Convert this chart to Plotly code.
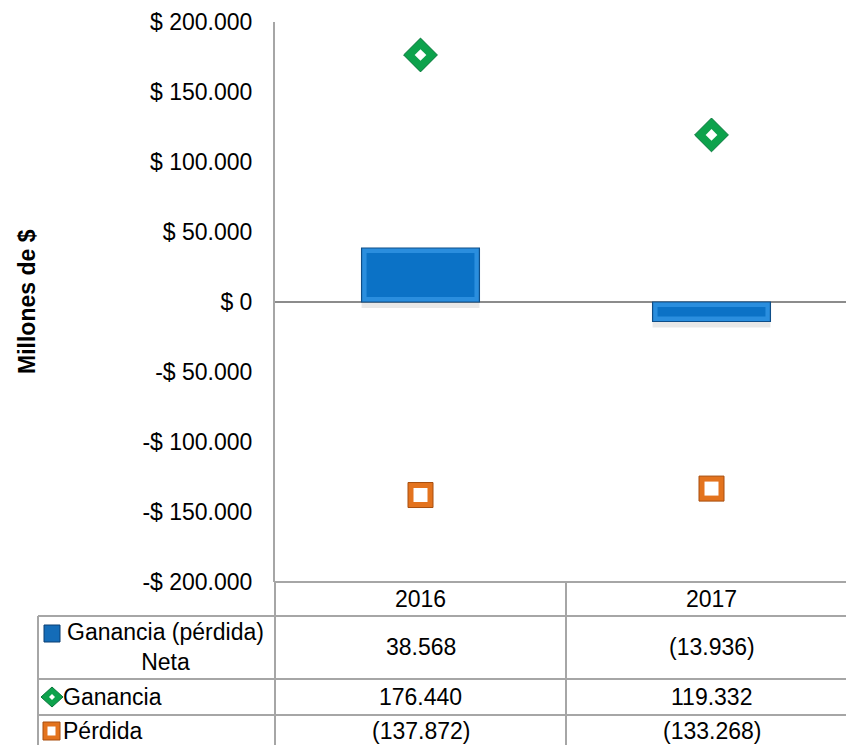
import plotly.graph_objects as go

# ---- data ----
years = ["2016", "2017"]
neta = [38568, -13936]          # Ganancia (pérdida) Neta
ganancia = [176440, 119332]     # Ganancia
perdida = [-137872, -133268]    # Pérdida
row_labels = ["Ganancia (pérdida)<br>Neta", "Ganancia", "Pérdida"]
y_ticks = [200000, 150000, 100000, 50000, 0, -50000, -100000, -150000, -200000]

FONT = "Liberation Sans, Arial, sans-serif"
FS = 23
GRID = "#A6A6A6"

W, H = 846, 745
L, T, B = 275, 22, 582          # plot area edges in px
PW, PH = W - L, B - T
Y_MIN, Y_MAX = -200000, 200000
CAT_PX = 291                    # width of one category slot in px


def money(v):
    s = f"{abs(v):,}".replace(",", ".")
    return f"-$ {s}" if v < 0 else f"$ {s}"


def acct(v):
    s = f"{abs(v):,}".replace(",", ".")
    return f"({s})" if v < 0 else s


def py(p):
    """pixel row -> paper y"""
    return (B - p) / PH


def px(p):
    """pixel column -> paper x"""
    return (p - L) / PW


units_per_px = (Y_MAX - Y_MIN) / PH
bar_w = 0.405
bev = 5
inset = bev * units_per_px
inner_w = bar_w - 2 * bev / CAT_PX

fig = go.Figure()

# soft shadow under the net bars
fig.add_trace(go.Bar(
    x=years, y=neta, base=[-6 * units_per_px] * 2, width=bar_w,
    marker=dict(color="rgba(110,110,110,0.16)", line=dict(width=0)),
    hoverinfo="skip", showlegend=False))
# outer bevel of the net bars
fig.add_trace(go.Bar(
    x=years, y=neta, width=bar_w,
    marker=dict(color="#2A8EDE", line=dict(color="#0F4E88", width=1.2)),
    name="Ganancia (pérdida) Neta", showlegend=False))
# inner face of the net bars
inner_base = [inset if v > 0 else -inset for v in neta]
inner_len = [v - 2 * inset if v > 0 else v + 2 * inset for v in neta]
fig.add_trace(go.Bar(
    x=years, y=inner_len, base=inner_base, width=inner_w,
    marker=dict(color="#0B72C6", line=dict(width=0)),
    hoverinfo="skip", showlegend=False))

# Ganancia markers (green diamond with white core)
fig.add_trace(go.Scatter(
    x=years, y=ganancia, mode="markers", name="Ganancia", showlegend=False,
    marker=dict(symbol="diamond", size=26, color="#0DA24C",
                line=dict(color="#07763A", width=1))))
fig.add_trace(go.Scatter(
    x=years, y=ganancia, mode="markers", hoverinfo="skip", showlegend=False,
    marker=dict(symbol="diamond", size=9, color="white", line=dict(width=0))))

# Pérdida markers (orange square with white core)
fig.add_trace(go.Scatter(
    x=years, y=perdida, mode="markers", name="Pérdida", showlegend=False,
    marker=dict(symbol="square", size=25, color="#E3731E",
                line=dict(color="#A84F0E", width=1))))
fig.add_trace(go.Scatter(
    x=years, y=perdida, mode="markers", hoverinfo="skip", showlegend=False,
    marker=dict(symbol="square", size=14, color="white", line=dict(width=0))))

shapes = []
line_style = dict(color=GRID, width=2)
# data table grid
shapes.append(dict(type="line", xref="paper", yref="paper",
                   x0=0, x1=1, y0=py(582), y1=py(582), line=line_style))
for yy in (616, 679, 715):
    shapes.append(dict(type="line", xref="paper", yref="paper",
                       x0=px(38), x1=1, y0=py(yy), y1=py(yy), line=line_style))
shapes.append(dict(type="line", xref="paper", yref="paper",
                   x0=px(38), x1=px(38), y0=py(616), y1=py(745), line=line_style))
shapes.append(dict(type="line", xref="paper", yref="paper",
                   x0=0, x1=0, y0=py(582), y1=py(745), line=line_style))
shapes.append(dict(type="line", xref="x", yref="paper",
                   x0=0.5, x1=0.5, y0=py(582), y1=py(745), line=line_style))

# legend keys inside the table
shapes.append(dict(type="rect", xref="paper", yref="paper",
                   x0=px(44), x1=px(60), y0=py(625), y1=py(642),
                   fillcolor="#146CB8", line=dict(color="#0B3F73", width=1)))
shapes.append(dict(type="path", xref="paper", yref="paper",
                   path=f"M {px(41)},{py(697)} L {px(52)},{py(687)} L {px(63)},{py(697)} L {px(52)},{py(707)} Z",
                   fillcolor="#0DA24C", line=dict(color="#07763A", width=1)))
shapes.append(dict(type="path", xref="paper", yref="paper",
                   path=f"M {px(49)},{py(697)} L {px(52)},{py(694)} L {px(55)},{py(697)} L {px(52)},{py(700)} Z",
                   fillcolor="white", line=dict(width=0)))
shapes.append(dict(type="rect", xref="paper", yref="paper",
                   x0=px(43), x1=px(60), y0=py(722), y1=py(740),
                   fillcolor="#E3731E", line=dict(color="#A84F0E", width=1)))
shapes.append(dict(type="rect", xref="paper", yref="paper",
                   x0=px(47.5), x1=px(55.5), y0=py(726.5), y1=py(735.5),
                   fillcolor="white", line=dict(width=0)))

ann = []
txt = dict(family=FONT, size=FS, color="black")
for i, yr in enumerate(years):
    # category axes take the category index for annotation positions
    ann.append(dict(x=i, xref="x", y=py(599), yref="paper", text=yr,
                    showarrow=False, font=txt, xanchor="center", yanchor="middle"))
    for series, yc in ((neta, 647), (ganancia, 697), (perdida, 731)):
        ann.append(dict(x=i, xref="x", y=py(yc), yref="paper",
                        text=acct(series[i]), showarrow=False, font=txt,
                        xanchor="center", yanchor="middle"))
ann.append(dict(x=px(165), xref="paper", y=py(647), yref="paper",
                text=row_labels[0], showarrow=False, font=txt, align="center",
                xanchor="center", yanchor="middle"))
ann.append(dict(x=px(61), xref="paper", y=py(697), yref="paper",
                text=row_labels[1], showarrow=False, font=txt,
                xanchor="left", yanchor="middle"))
ann.append(dict(x=px(61), xref="paper", y=py(731), yref="paper",
                text=row_labels[2], showarrow=False, font=txt,
                xanchor="left", yanchor="middle"))
# value-axis title
ann.append(dict(x=px(27), xref="paper", y=py(302), yref="paper",
                text="<b>Millones de $</b>", textangle=-90, showarrow=False,
                font=dict(family=FONT, size=FS, color="black"),
                xanchor="center", yanchor="middle"))

fig.update_layout(
    width=W, height=H,
    margin=dict(l=L, r=0, t=T, b=H - B, pad=0),
    paper_bgcolor="white", plot_bgcolor="white",
    barmode="overlay",
    showlegend=False,
    shapes=shapes,
    annotations=ann,
    xaxis=dict(type="category", range=[-0.5, -0.5 + PW / CAT_PX],
               showticklabels=False, showgrid=False, zeroline=False,
               showline=False, ticks=""),
    yaxis=dict(range=[Y_MIN, Y_MAX], tickvals=y_ticks,
               ticktext=[money(v) for v in y_ticks],
               tickfont=dict(family=FONT, size=FS, color="black"),
               showgrid=False, zeroline=True, zerolinecolor="#8C8C8C",
               zerolinewidth=2, showline=True, linecolor=GRID, linewidth=2,
               ticks="", ticklabelstandoff=16, layer="above traces"),
)

fig.write_html("out.html")
